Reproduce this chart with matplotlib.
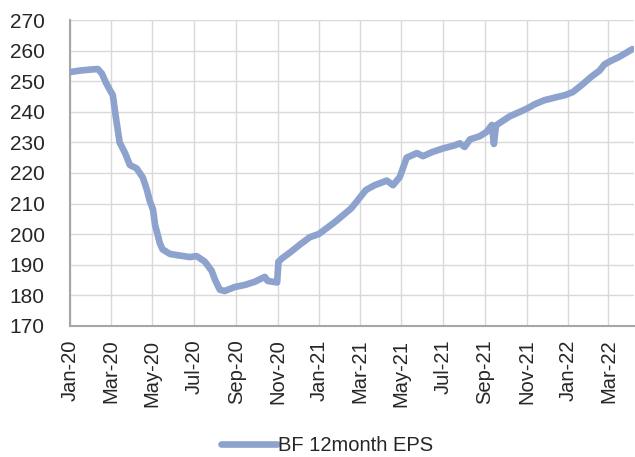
import pandas as pd
import matplotlib
matplotlib.use("Agg")
import matplotlib.pyplot as plt
import matplotlib.dates as mdates

plt.rcParams['font.family'] = ['Liberation Sans', 'DejaVu Sans']

# ---- data ----
dates = [
    "2020-01-01", "2020-01-16", "2020-01-30", "2020-02-11", "2020-02-17", "2020-02-23",
    "2020-02-29", "2020-03-04", "2020-03-08", "2020-03-14", "2020-03-22", "2020-03-29",
    "2020-04-08", "2020-04-17", "2020-04-23", "2020-04-27", "2020-05-02", "2020-05-05",
    "2020-05-08", "2020-05-12", "2020-05-16", "2020-05-27", "2020-06-10", "2020-06-25",
    "2020-07-05", "2020-07-17", "2020-07-27", "2020-08-01", "2020-08-08", "2020-08-15",
    "2020-08-30", "2020-09-14", "2020-09-28", "2020-10-13", "2020-10-17", "2020-10-25",
    "2020-10-31", "2020-11-02", "2020-11-08", "2020-11-19", "2020-12-03", "2020-12-18",
    "2020-12-31", "2021-01-12", "2021-01-24", "2021-02-07", "2021-02-17", "2021-02-26",
    "2021-03-10", "2021-03-23", "2021-04-10", "2021-04-19", "2021-04-29", "2021-05-09",
    "2021-05-24", "2021-06-02", "2021-06-15", "2021-07-01", "2021-07-18", "2021-07-26",
    "2021-08-02", "2021-08-10", "2021-08-24", "2021-09-03", "2021-09-11", "2021-09-14",
    "2021-09-17", "2021-09-22", "2021-10-07", "2021-10-22", "2021-11-01", "2021-11-13",
    "2021-11-27", "2021-12-15", "2021-12-28", "2022-01-08", "2022-01-22", "2022-02-04",
    "2022-02-16", "2022-02-23", "2022-03-03", "2022-03-17", "2022-04-05",
]
eps = [
    253.0, 253.5, 253.8, 254.0, 252.5, 249.5,
    247.0, 245.5, 239.0, 230.0, 226.5, 222.6,
    221.5, 218.5, 214.5, 211.0, 208.0, 203.0,
    200.5, 197.0, 195.0, 193.5, 193.0, 192.5,
    192.8, 191.0, 188.0, 185.0, 181.8, 181.4,
    182.7, 183.4, 184.4, 186.0, 184.7, 184.4,
    184.2, 191.0, 192.2, 194.0, 196.5, 199.0,
    200.0, 202.0, 204.0, 206.6, 208.5, 211.0,
    214.4, 216.0, 217.5, 216.0, 218.7, 225.0,
    226.5, 225.5, 226.8, 228.0, 229.0, 229.7,
    228.5, 231.0, 232.0, 233.4, 235.7, 229.5,
    235.5, 236.3, 238.5, 240.0, 241.0, 242.5,
    243.8, 244.8, 245.5, 246.5, 249.0, 251.5,
    253.5, 255.5, 256.5, 258.0, 260.5,
]
series_label = "BF 12month EPS"
y_ticks = list(range(170, 271, 10))

x = pd.to_datetime(dates)

# ---- figure ----
fig = plt.figure(figsize=(6.35, 4.57), dpi=100)
ax = fig.add_axes([0.110, 0.287, 0.889, 0.669])

ax.plot(x, eps, color='#8DA3CE', linewidth=4.8, solid_joinstyle='round',
        solid_capstyle='round', label=series_label, zorder=3)

ax.set_ylim(170, 270)
ax.set_yticks(y_ticks)
ax.set_xlim(pd.Timestamp("2020-01-01"), pd.Timestamp("2022-04-08"))
ax.xaxis.set_major_locator(mdates.MonthLocator(bymonth=[1, 3, 5, 7, 9, 11]))
ax.xaxis.set_major_formatter(mdates.DateFormatter('%b-%y'))

ax.grid(True, color='#D9D9D9', linewidth=1.0)
ax.set_axisbelow(True)
for s in ['top', 'right']:
    ax.spines[s].set_visible(False)
for s in ['left', 'bottom']:
    ax.spines[s].set_color('#A6A6A6')
    ax.spines[s].set_linewidth(1.5)

ax.tick_params(axis='y', length=0, pad=18, labelsize=15, labelcolor='#262626')
ax.tick_params(axis='x', length=0, pad=10, labelsize=14.5, labelcolor='#262626',
               labelrotation=90)

fig.legend(loc='center', bbox_to_anchor=(0.515, 0.026), frameon=False,
           fontsize=14.5, handlelength=2.8, handletextpad=0.05,
           labelcolor='#262626')

fig.savefig("out.png", dpi=100)
